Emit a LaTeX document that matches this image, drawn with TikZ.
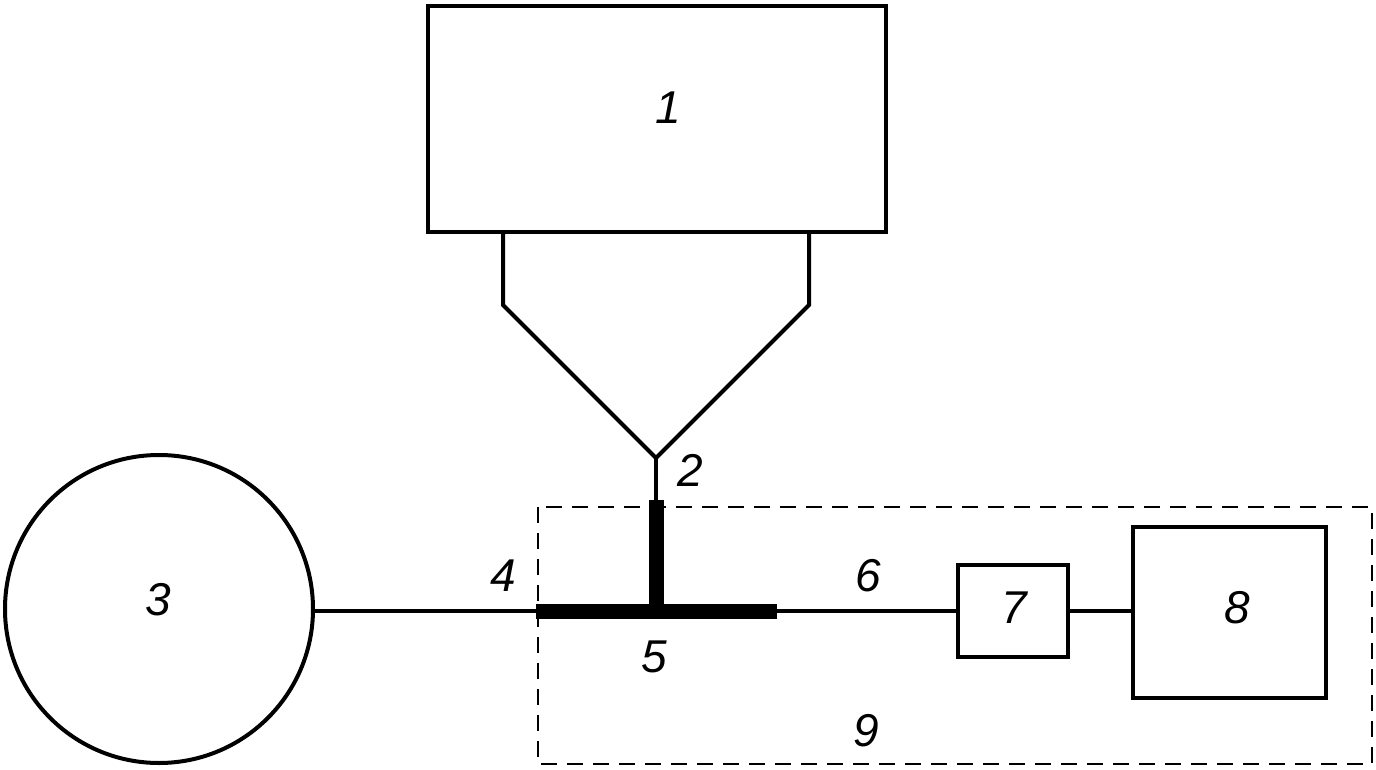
\documentclass[tikz,border=0pt]{standalone}
\usepackage{fontspec}
\setmainfont{Liberation Sans}
\begin{document}
\begin{tikzpicture}[x=1pt,y=-1pt,
  thinline/.style={line width=4pt},
  thickbar/.style={line width=15pt},
  box/.style={draw,line width=4pt,inner sep=0pt},
  lbl/.style={font=\fontsize{46}{50}\selectfont\itshape,inner sep=0pt},
  dashbox/.style={draw,line width=2.4pt,dash pattern=on 16pt off 10pt}]
\useasboundingbox (0,0) rectangle (1376,770);
% dashed frame 9
\draw[dashbox] (538,507) rectangle (1372,764);
% box 1
\node[box,minimum width=458pt,minimum height=226pt] (b1) at (657,119) {};
\node[lbl] (t1) at (668,108) {1};
% funnel
\coordinate (fl) at (503,305);
\coordinate (fr) at (809,305);
\coordinate (apex) at (656,458);
\coordinate (stemj) at (656,500);
\coordinate (tee) at (656,611);
\draw[thinline,line join=miter] (b1.south -| fl) -- (fl) -- (apex) -- (fr) -- (b1.south -| fr);
\draw[thinline] (apex) -- (stemj);
\draw[thickbar] (stemj) -- (tee);
\node[lbl] (t2) at (690,470) {2};
% circle 3
\node[draw,circle,line width=4pt,minimum size=308pt,inner sep=0pt] (c3) at (159,609) {};
\node[lbl] (t3) at (158,600) {3};
% bar 5
\coordinate (barl) at (536,611);
\coordinate (barr) at (777,611);
\draw[thickbar] (barl) -- (barr);
\draw[thinline] (c3.east |- barl) -- (barl);
\node[lbl] (t4) at (503,576) {4};
\node[lbl] (t5) at (654,657) {5};
% box 7
\node[box,minimum width=110pt,minimum height=92pt] (b7) at (1013,611) {};
\node[lbl] (t7) at (1014,608) {7};
\draw[thinline] (barr) -- (b7.west);
\node[lbl] (t6) at (868,576) {6};
% box 8
\node[box,minimum width=193pt,minimum height=171pt] (b8) at (1229.5,612.5) {};
\node[lbl] (t8) at (1237,608) {8};
\draw[thinline] (b7.east) -- (b7.east -| b8.west);
\node[lbl] (t9) at (866,731) {9};
\end{tikzpicture}
\end{document}
